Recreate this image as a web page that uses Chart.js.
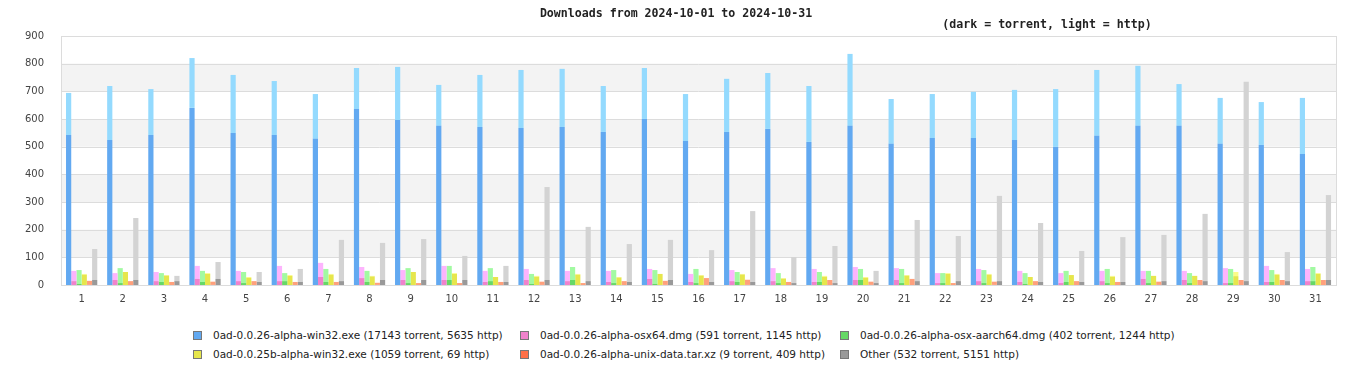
<!DOCTYPE html>
<html>
<head>
<meta charset="utf-8">
<script src="https://cdn.jsdelivr.net/npm/chart.js@4/dist/chart.umd.min.js"></script>
<style>
  body { margin: 0; background: #fff; }
  #wrap { position: relative; width: 1366px; height: 380px; }
  #box { position: absolute; left: 0; top: 0; width: 1366px; height: 311px; }
  #legend { position: absolute; left: 0; top: 326px; width: 1366px; font-family: "DejaVu Sans", sans-serif; font-size: 10.5px; color: #222; }
  #legend .item { position: absolute; white-space: nowrap; line-height: 18px; }
  #legend .sw { display: inline-block; width: 7px; height: 7px; border: 1px solid #777; margin-right: 11px; vertical-align: -1px; }
</style>
</head>
<body>
<div id="wrap">
  <div id="box"><canvas id="c"></canvas></div>
  <div id="legend"></div>
</div>
<script>
const days = ['1','2','3','4','5','6','7','8','9','10','11','12','13','14','15','16',
  '17','18','19','20','21','22','23','24','25','26','27','28','29','30','31'];

const fileNames = [
  '0ad-0.0.26-alpha-win32.exe (17143 torrent, 5635 http)',
  '0ad-0.0.26-alpha-osx64.dmg (591 torrent, 1145 http)',
  '0ad-0.0.26-alpha-osx-aarch64.dmg (402 torrent, 1244 http)',
  '0ad-0.0.25b-alpha-win32.exe (1059 torrent, 69 http)',
  '0ad-0.0.26-alpha-unix-data.tar.xz (9 torrent, 409 http)',
  'Other (532 torrent, 5151 http)'
];

// torrent / http downloads per day
const win32Torrent = [542,524,542,640,549,542,528,636,596,575,571,567,571,553,600,520,553,564,517,575,510,531,531,524,499,539,575,575,510,506,473];
const win32Http = [152,195,166,180,210,195,162,148,192,148,188,210,210,166,184,170,192,202,202,260,162,159,167,181,209,238,217,151,166,155,203];
const osx64Torrent = [14,18,14,22,14,14,29,25,18,18,11,18,14,11,22,11,14,14,11,18,18,7,14,11,7,14,22,18,7,11,14];
const osx64Http = [37,25,33,47,37,55,51,40,36,51,40,40,37,40,36,29,40,47,47,47,43,36,44,40,36,37,29,33,54,58,44];
const aarch64Torrent = [4,7,11,11,7,14,11,11,7,18,14,4,18,7,4,7,11,7,11,18,7,7,7,4,11,7,7,7,7,11,14];
const aarch64Http = [50,54,32,40,40,29,47,40,54,51,47,36,47,47,50,51,36,36,36,40,51,36,47,39,40,51,44,36,51,43,51];
const win32bTorrent = [37,47,34,40,26,33,37,31,47,40,29,30,37,27,40,34,38,23,30,26,34,40,37,29,36,30,33,33,32,37,40];
const win32bHttp = [3,0,2,3,3,3,3,2,0,3,0,3,3,2,0,2,2,2,3,3,2,3,3,0,0,3,0,0,15,3,3];
const unixTorrent = [1,0,0,1,0,0,0,1,0,0,0,1,0,0,1,0,1,0,0,1,0,0,1,0,0,0,1,0,0,0,0];
const unixHttp = [14,14,11,11,14,11,11,7,7,7,11,11,7,14,14,25,18,11,18,11,22,7,11,14,14,11,11,18,18,18,18];
const otherTorrent = [18,18,14,22,11,11,14,18,18,18,11,18,14,11,18,11,11,7,7,7,14,14,14,11,11,11,14,14,14,14,18];
const otherHttp = [112,224,19,61,36,47,149,134,148,87,58,336,196,137,145,115,256,94,134,44,221,163,308,213,112,162,167,243,720,105,307];

const yTicks = [0,100,200,300,400,500,600,700,800,900];

const torrentSeries = [win32Torrent, osx64Torrent, aarch64Torrent, win32bTorrent, unixTorrent, otherTorrent];
const httpSeries = [win32Http, osx64Http, aarch64Http, win32bHttp, unixHttp, otherHttp];
const darkColors = ['#62a9f1','#f082cc','#66d866','#e6e64c','#ff7048','#999999'];
const lightColors = ['#94dafe','#fdb4fd','#a2faa2','#fcfc88','#ffa07c','#d3d3d3'];

const datasets = [];
fileNames.forEach((name, i) => {
  datasets.push({ label: name, data: torrentSeries[i], backgroundColor: darkColors[i], stack: 's' + i });
  datasets.push({ label: name + ' http', data: httpSeries[i], backgroundColor: lightColors[i], stack: 's' + i });
});

// grey bands between every other pair of gridlines, plus frame round the plot
const bands = {
  id: 'bands',
  beforeDatasetsDraw(chart) {
    const { ctx, chartArea: a, scales: { y } } = chart;
    ctx.save();
    ctx.fillStyle = '#f3f3f3';
    [[700,800],[500,600],[300,400],[100,200]].forEach(([lo, hi]) => {
      const t = y.getPixelForValue(hi), b = y.getPixelForValue(lo);
      ctx.fillRect(a.left, t, a.right - a.left, b - t);
    });
    ctx.strokeStyle = '#dcdcdc';
    ctx.lineWidth = 1;
    yTicks.forEach(v => {
      const p = Math.round(y.getPixelForValue(v)) + 0.5;
      ctx.beginPath(); ctx.moveTo(a.left, p); ctx.lineTo(a.right, p); ctx.stroke();
    });
    ctx.strokeRect(Math.round(a.left) + 0.5, Math.round(a.top) + 0.5, Math.round(a.right - a.left), Math.round(a.bottom - a.top));
    ctx.restore();
  }
};

const note = {
  id: 'note',
  afterDraw(chart) {
    const ctx = chart.ctx;
    ctx.save();
    ctx.font = 'bold 11.6px "DejaVu Sans Mono", monospace';
    ctx.fillStyle = '#222';
    ctx.textAlign = 'center';
    ctx.textBaseline = 'middle';
    ctx.fillText('(dark = torrent, light = http)', 1047, 25);
    ctx.restore();
  }
};

new Chart(document.getElementById('c'), {
  type: 'bar',
  data: { labels: days, datasets: datasets },
  options: {
    responsive: true,
    maintainAspectRatio: false,
    animation: false,
    layout: { padding: { left: 16, right: 30, top: 0, bottom: 6 } },
    datasets: { bar: { categoryPercentage: 0.76, barPercentage: 1.0 } },
    plugins: {
      legend: { display: false },
      tooltip: { enabled: false },
      title: {
        display: true,
        text: 'Downloads from 2024-10-01 to 2024-10-31',
        color: '#222',
        font: { family: 'DejaVu Sans Mono', size: 11.6, weight: 'bold' },
        padding: { top: 7, bottom: 15 }
      }
    },
    scales: {
      x: {
        stacked: true,
        grid: { display: false },
        border: { display: false },
        ticks: { color: '#444', font: { family: 'DejaVu Sans', size: 10 }, padding: 0, maxRotation: 0 }
      },
      y: {
        stacked: true,
        min: 0,
        max: 900,
        grid: { display: false },
        border: { display: false },
        afterBuildTicks(axis) { axis.ticks = yTicks.map(v => ({ value: v })); },
        ticks: { color: '#444', font: { family: 'DejaVu Sans', size: 10 }, padding: 9 }
      }
    }
  },
  plugins: [bands, note]
});

// legend in a 3-column grid, torrent colours only
const cols = [193, 520, 840];
const legend = document.getElementById('legend');
fileNames.forEach((name, i) => {
  const el = document.createElement('div');
  el.className = 'item';
  el.style.left = cols[i % 3] + 'px';
  el.style.top = (Math.floor(i / 3) * 19) + 'px';
  el.innerHTML = '<span class="sw" style="background:' + darkColors[i] + '"></span>';
  el.appendChild(document.createTextNode(name));
  legend.appendChild(el);
});
</script>
</body>
</html>
